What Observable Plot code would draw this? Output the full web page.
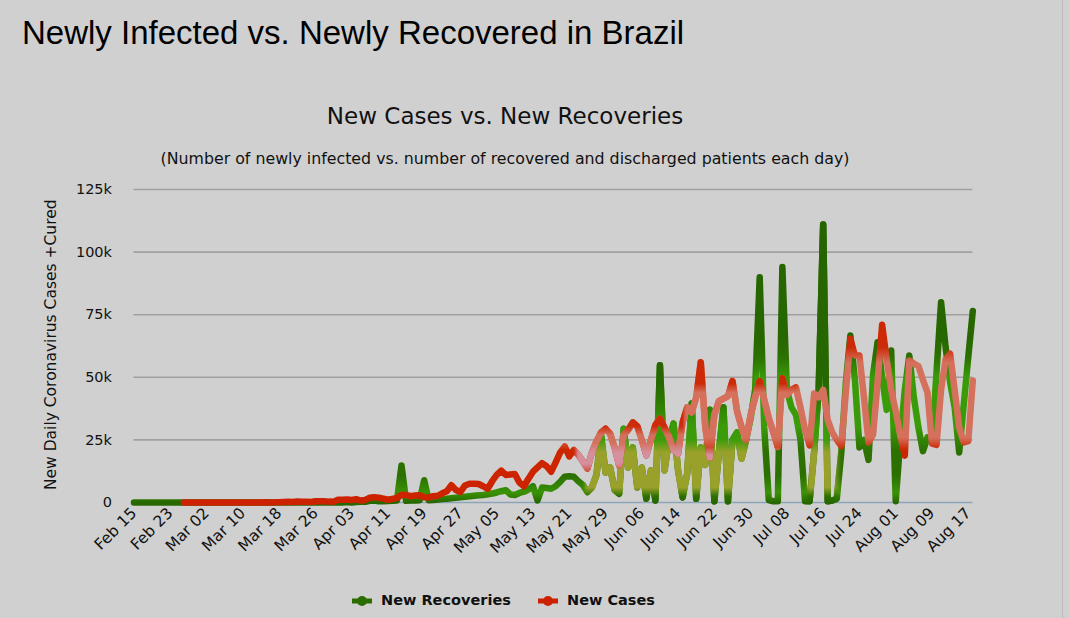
<!DOCTYPE html>
<html>
<head>
<meta charset="utf-8">
<script src="https://cdn.jsdelivr.net/npm/d3@7"></script>
<script src="https://cdn.jsdelivr.net/npm/@observablehq/plot@0.6"></script>
<style>
  html, body { margin: 0; padding: 0; background: #d0d0d0; }
  #wrap { position: relative; width: 1069px; height: 618px; overflow: hidden; background: #d0d0d0; }
  #edge { position: absolute; left: 1062px; top: 0; width: 1px; height: 618px; background: #bcbcbc; }
  .t { position: absolute; white-space: nowrap; color: #000; }
  #title { left: 22px; top: 16px; font: 33px/33px "Liberation Sans", Arial, sans-serif; }
  #ctitle { left: 0; width: 1010px; text-align: center; top: 105px; font: 23px/23px "DejaVu Sans", sans-serif; color: #111; }
  #sub { left: 0; width: 1010px; text-align: center; top: 151px; font: 15.8px/15.8px "DejaVu Sans", sans-serif; color: #111; }
  #ylab { left: -148px; width: 400px; text-align: center; top: 337px; font: 15.5px/15.5px "DejaVu Sans", sans-serif; color: #111; transform: rotate(-90deg); transform-origin: 200px 7.75px; }
  #chart { position: absolute; left: 0; top: 0; }
  #legend { position: absolute; top: 592px; left: 0; width: 1069px; height: 20px; font: bold 14.5px/14.5px "DejaVu Sans", sans-serif; color: #111; }
  .li { position: absolute; top: 0; }
  .li svg { position: absolute; top: 2px; }
  .li span { position: absolute; left: 29px; top: 1px; white-space: nowrap; }
</style>
</head>
<body>
<div id="wrap">
  <div id="chart"></div>
  <div class="t" id="title">Newly Infected vs. Newly Recovered in Brazil</div>
  <div class="t" id="ctitle">New Cases vs. New Recoveries</div>
  <div class="t" id="sub">(Number of newly infected vs. number of recovered and discharged patients each day)</div>
  <div class="t" id="ylab">New Daily Coronavirus Cases +Cured</div>
  <div id="legend"></div>
  <div id="edge"></div>
</div>
<script>
// ---------------- data ----------------
const startDate = "2020-02-15";   // first day of the daily series
const seriesNames = ["New Recoveries", "New Cases"];
const seriesColors = ["#2a6c00", "#cc2200"];

// daily new recoveries, Feb 15 .. Aug 18
const newRecoveries = [
  0,0,0,0,0,0,0,0,0,0,
  0,0,0,0,0,0,0,0,0,0,
  0,0,0,0,0,0,0,0,0,0,
  0,0,2,0,0,0,0,0,0,1,
  0,0,6,0,0,
  100,0,150,0,200,250,300,
  700,800,500,500,600,700,800,14800,
  700,800,800,900,8900,900,1000,1200,1400,1500,
  1700,1900,2100,2300,2500,2700,2900,3000,3300,3600,
  4000,4500,4900,3200,3000,3800,4300,5200,6500,800,
  6000,5800,5500,6500,8200,10300,10500,10300,8500,7000,
  4200,6000,11000,27000,12000,14000,5000,3500,29500,14000,
  22000,6000,14000,1500,12800,800,54800,12800,25000,31500,
  12800,2000,11500,39500,1500,22000,15000,37000,500,20000,
  38000,500,25000,28000,17500,25000,33700,45000,90000,30000,
  1000,500,500,94000,45000,38000,35000,25000,500,500,
  20000,45000,111000,500,800,1500,20000,48000,66700,49000,
  22000,25000,17000,51000,64000,50000,37000,60700,500,25000,
  45000,58700,42000,30000,20500,26000,24000,52000,80000,62000,
  48000,38000,20000,39000,58000,76500
];

// daily new cases, Feb 15 .. Aug 18 (null = no data yet)
const newCases = [
  null,null,null,null,null,null,null,null,null,null,
  null,1,0,0,0,1,0,0,2,4,
  5,6,0,6,6,18,25,21,23,79,
  34,57,137,193,283,224,418,345,310,232,
  482,502,487,352,323,1138,1119,1208,1012,1304,
  770,1031,1873,2136,1922,1546,1089,1442,1800,3100,
  3000,2500,2800,2900,2100,2000,2500,2700,3700,4500,
  6900,5000,4200,6800,7500,7500,7400,6500,5500,8500,
  11000,12700,11000,11200,11400,8000,6500,9500,12300,14000,
  15700,14500,12300,16000,20000,22400,18400,21000,19000,16400,
  13600,20000,24500,28000,29500,27500,22000,14800,27000,29000,
  32000,30500,25000,18800,25000,31000,33500,30000,26000,21000,
  19500,32000,38000,36000,42000,56000,30000,18000,35000,40500,
  41500,42500,48500,36500,30000,25000,35000,42000,48500,41000,
  33700,28000,22200,49600,43000,45000,46000,38000,29000,22800,
  43500,42000,45000,33000,28000,25000,22500,44000,65400,58700,
  58700,42000,24000,27000,48000,71000,57000,45000,36500,27000,
  18700,56700,55500,54500,49000,44000,23500,23000,45000,57000,
  59400,45000,30000,24000,24500,48700
];

const xTickLabels = ["Feb 15","Feb 23","Mar 02","Mar 10","Mar 18","Mar 26","Apr 03","Apr 11",
  "Apr 19","Apr 27","May 05","May 13","May 21","May 29","Jun 06","Jun 14","Jun 22","Jun 30",
  "Jul 08","Jul 16","Jul 24","Aug 01","Aug 09","Aug 17"];
const yTicks = [0, 25000, 50000, 75000, 100000, 125000];

// ---------------- build ----------------
const start = d3.utcParse("%Y-%m-%d")(startDate);
const rows = newRecoveries.map((v, i) => ({
  date: d3.utcDay.offset(start, i), rec: v, cases: newCases[i]
}));
const caseRows = rows.filter(d => d.cases != null);
const parseTick = d3.utcParse("%b %d %Y");
const xTicks = xTickLabels.map(s => parseTick(s + " 2020"));

const lineOpts = {strokeWidth: 6.5, strokeLinejoin: "round", strokeLinecap: "round", curve: "linear"};

const chart = Plot.plot({
  width: 1069,
  height: 618,
  marginTop: 189,
  marginBottom: 116,
  marginLeft: 133.5,
  marginRight: 96.7,
  style: {background: "transparent", fontFamily: "DejaVu Sans", fontSize: "14.5px", color: "#111", overflow: "visible"},
  x: {type: "utc", domain: [rows[0].date, rows[rows.length - 1].date], ticks: xTicks,
      tickFormat: d3.utcFormat("%b %d"), tickRotate: -45, tickSize: 0, tickPadding: 8, label: null},
  y: {domain: [0, 125000], ticks: yTicks, tickFormat: d => d === 0 ? "0" : (d / 1000) + "k",
      tickSize: 0, tickPadding: 22, label: null},
  marks: [
    Plot.ruleY(yTicks.filter(d => d > 0), {stroke: "#a0a0a0", strokeWidth: 1.6}),
    Plot.ruleY([0], {stroke: "#8aa4b8", strokeWidth: 1.6}),
    Plot.line(rows, {x: "date", y: "rec", stroke: "url(#recBase)", ...lineOpts}),
    Plot.line(rows, {x: "date", y: "rec", stroke: "url(#recZone)", ...lineOpts}),
    Plot.line(caseRows, {x: "date", y: "cases", stroke: "url(#caseBase)", ...lineOpts}),
    Plot.line(caseRows, {x: "date", y: "cases", stroke: "url(#caseZoneA)", ...lineOpts}),
    Plot.line(caseRows, {x: "date", y: "cases", stroke: "url(#caseZoneB)", ...lineOpts})
  ]
});
document.getElementById("chart").appendChild(chart);

// ---------------- gradients & masks ----------------
const svg = d3.select(chart);
const ys = chart.scale("y"), xsc = chart.scale("x");
const X = i => xsc.apply(d3.utcDay.offset(start, i));
const defs = svg.insert("defs", ":first-child");

function vgrad(id, stops) {
  const g = defs.append("linearGradient").attr("id", id).attr("gradientUnits", "userSpaceOnUse")
    .attr("x1", 0).attr("x2", 0).attr("y1", ys.apply(0)).attr("y2", ys.apply(125000));
  stops.forEach(([v, c]) => g.append("stop").attr("offset", v / 125000).attr("stop-color", c));
}
const DK = "#276700", BR = "#3a9a08", OL = "#9aa12b";
const RED = "#cc2200", SAL = "#d4705c", PNK = "#d68f9d";
vgrad("recBase", [[0, DK], [1500, "#2e7800"], [4000, "#3a9306"], [7500, "#318005"], [11000, "#2b6f00"],
  [21000, "#2c7202"], [30000, BR], [50000, BR], [58000, "#2c7102"], [65000, DK], [125000, "#256400"]]);
vgrad("recZone", [[0, DK], [2500, "#2d7000"], [6000, OL], [20000, OL], [25000, "#3d9c0a"],
  [31000, BR], [40000, "#2e7a02"], [48000, DK], [125000, "#256400"]]);
vgrad("caseBase", [[0, RED], [21000, "#cc2600"], [26000, SAL], [56000, SAL], [62000, "#cd2a08"], [125000, RED]]);
vgrad("caseZoneA", [[0, RED], [12000, "#cf4a3a"], [15500, PNK], [20000, PNK], [24000, SAL], [27000, SAL],
  [30500, "#cd2c0a"], [125000, RED]]);
vgrad("caseZoneB", [[0, RED], [13000, RED], [17000, PNK], [19000, PNK], [22000, "#cf4a2e"], [26000, SAL],
  [44000, SAL], [47500, "#cd2a08"], [125000, RED]]);

function hmask(id, windows) {
  const gid = id + "G";
  const g = defs.append("linearGradient").attr("id", gid).attr("gradientUnits", "userSpaceOnUse")
    .attr("x1", 0).attr("x2", 1069).attr("y1", 0).attr("y2", 0);
  const stop = (x, c) => g.append("stop").attr("offset", Math.max(0, Math.min(1, x / 1069))).attr("stop-color", c);
  stop(0, "black");
  windows.forEach(([a0, a1, b1, b0]) => {
    stop(X(a0), "black"); stop(X(a1), "white"); stop(X(b1), "white"); stop(X(b0), "black");
  });
  stop(1069, "black");
  defs.append("mask").attr("id", id).attr("maskUnits", "userSpaceOnUse")
    .attr("x", 0).attr("y", 0).attr("width", 1069).attr("height", 618)
    .append("rect").attr("x", 0).attr("y", 0).attr("width", 1069).attr("height", 618)
    .attr("fill", "url(#" + gid + ")");
}
hmask("mRec", [[99, 100.5, 135, 137], [148.3, 149.5, 154.5, 156]]);
hmask("mCaseA", [[97.5, 98.8, 121.2, 122]]);
hmask("mCaseB", [[121.2, 122, 146, 147]]);

const lineGroups = svg.selectAll('g[aria-label="line"]').nodes();
d3.select(lineGroups[1]).attr("mask", "url(#mRec)");
d3.select(lineGroups[3]).attr("mask", "url(#mCaseA)");
d3.select(lineGroups[4]).attr("mask", "url(#mCaseB)");

// axis label sizes
svg.selectAll('g[aria-label^="x-axis"] text').style("font-size", "15.5px");
svg.selectAll('g[aria-label^="y-axis"] text').style("font-size", "14.5px");

// ---------------- legend ----------------
const legend = d3.select("#legend");
const legendX = [352, 538];
seriesNames.forEach((name, k) => {
  const item = legend.append("div").attr("class", "li").style("left", legendX[k] + "px");
  const s = item.append("svg").attr("width", 22).attr("height", 14);
  s.append("line").attr("x1", 0).attr("x2", 20).attr("y1", 7).attr("y2", 7)
    .attr("stroke", seriesColors[k]).attr("stroke-width", 5);
  s.append("circle").attr("cx", 10).attr("cy", 7).attr("r", 5).attr("fill", seriesColors[k]);
  item.append("span").text(name);
});
</script>
</body>
</html>
